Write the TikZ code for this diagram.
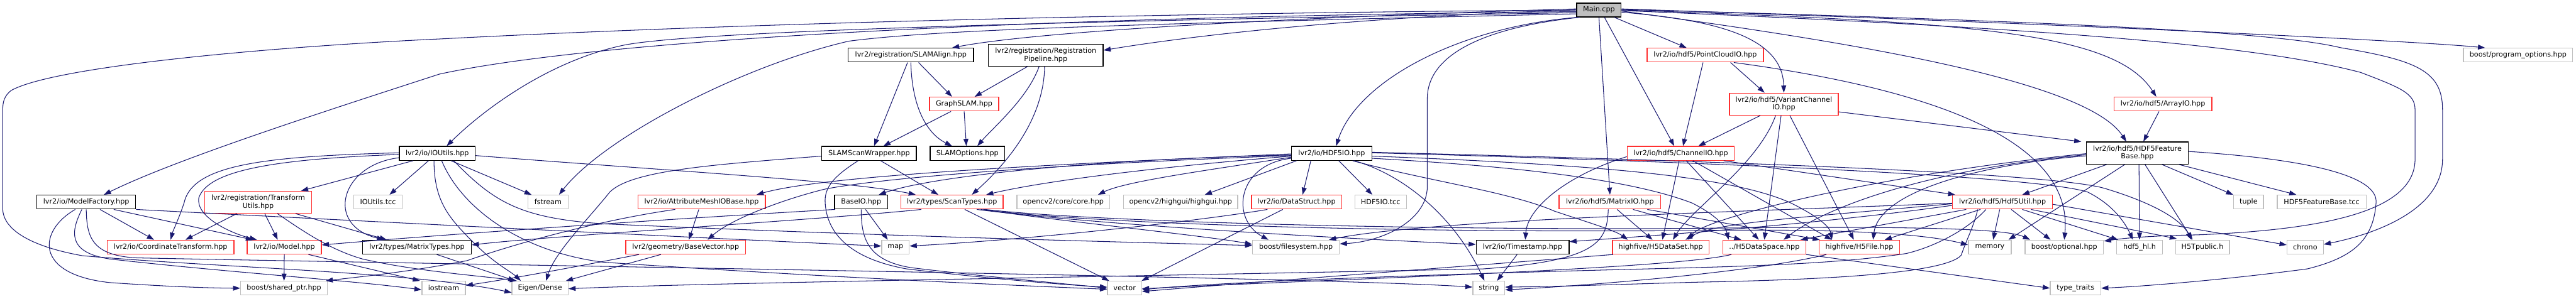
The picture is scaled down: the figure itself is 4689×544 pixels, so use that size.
\documentclass[tikz,border=0pt]{standalone}
\usepackage{fontspec}
\setmainfont{DejaVu Sans}
\usetikzlibrary{arrows.meta}
\definecolor{edgec}{HTML}{191970}
\definecolor{rbord}{HTML}{FF3030}
\definecolor{gbord}{HTML}{BFBFBF}
\tikzset{
  nb/.style={rectangle, inner sep=0pt, minimum height=25.3pt, font=\fontsize{12.8}{14}\selectfont, align=center, line width=1.5pt},
  kb/.style={nb, draw=black},
  rb/.style={nb, draw=rbord},
  gb/.style={nb, draw=gbord},
  e/.style={draw=edgec, line width=1.2pt, -{Triangle[length=13pt,width=9pt]}}
}
\begin{document}
\begin{tikzpicture}[x=1pt,y=-1pt]
\useasboundingbox (0,0) rectangle (4689,544);
% row 0
\node[kb, fill=gbord, minimum width=81pt] (main) at (2910.5,18.2) {Main.cpp};
% row 1
\node[gb, minimum width=199pt] (po) at (4583.5,100.5) {boost/program\_options.hpp};
\node[kb, minimum width=228pt] (slam) at (1658,100.5) {lvr2/registration/SLAMAlign.hpp};
\node[kb, minimum width=209pt, minimum height=39.6pt] (rp) at (1903.5,100.6) {lvr2/registration/Registration\\Pipeline.hpp};
\node[rb, minimum width=212pt] (pcio) at (3104,100.5) {lvr2/io/hdf5/PointCloudIO.hpp};
% row 2
\node[rb, minimum width=126pt] (gs) at (1755,189.7) {GraphSLAM.hpp};
\node[rb, minimum width=198pt, minimum height=40.2pt] (vcio) at (3247,189.8) {lvr2/io/hdf5/VariantChannel\\IO.hpp};
\node[rb, minimum width=178pt] (aio) at (3937,189.7) {lvr2/io/hdf5/ArrayIO.hpp};
% row 3
\node[kb, minimum width=138pt] (ioutils) at (796,279.5) {lvr2/io/IOUtils.hpp};
\node[kb, minimum width=172pt] (sw) at (1582,279.5) {SLAMScanWrapper.hpp};
\node[kb, minimum width=136pt] (so) at (1761,279.5) {SLAMOptions.hpp};
\node[kb, minimum width=146pt] (hdf5io) at (2424,279.5) {lvr2/io/HDF5IO.hpp};
\node[rb, minimum width=195pt] (chio) at (3059.5,279.5) {lvr2/io/hdf5/ChannelIO.hpp};
\node[kb, minimum width=185pt, minimum height=40.3pt] (fb) at (3890.5,279) {lvr2/io/hdf5/HDF5Feature\\Base.hpp};
% row 4
\node[kb, minimum width=180pt] (mf) at (157,368.3) {lvr2/io/ModelFactory.hpp};
\node[rb, minimum width=194pt, minimum height=40pt] (tu) at (470,368.6) {lvr2/registration/Transform\\Utils.hpp};
\node[gb, minimum width=88pt] (iotcc) at (688,368.3) {IOUtils.tcc};
\node[gb, minimum width=73pt] (fstream) at (997.5,368.3) {fstream};
\node[rb, minimum width=232pt] (amio) at (1277,368.3) {lvr2/io/AttributeMeshIOBase.hpp};
\node[kb, minimum width=97pt] (baseio) at (1567.5,368.3) {BaseIO.hpp};
\node[rb, minimum width=186pt] (st) at (1733,368.3) {lvr2/types/ScanTypes.hpp};
\node[gb, minimum width=169pt] (cv) at (1935.5,368.3) {opencv2/core/core.hpp};
\node[gb, minimum width=208pt] (hg) at (2149,368.3) {opencv2/highgui/highgui.hpp};
\node[rb, minimum width=164pt] (ds) at (2360,368.3) {lvr2/io/DataStruct.hpp};
\node[gb, minimum width=94pt] (htcc) at (2513,368.3) {HDF5IO.tcc};
\node[rb, minimum width=185pt] (mio) at (2930.5,368.3) {lvr2/io/hdf5/MatrixIO.hpp};
\node[rb, minimum width=182pt] (util) at (3645,368.3) {lvr2/io/hdf5/Hdf5Util.hpp};
\node[gb, minimum width=54pt] (tuple) at (4093,368.3) {tuple};
\node[gb, minimum width=162pt] (fbtcc) at (4226,368.3) {HDF5FeatureBase.tcc};
% row 5
\node[rb, minimum width=231pt] (ct) at (310.5,450.4) {lvr2/io/CoordinateTransform.hpp};
\node[rb, minimum width=135pt] (model) at (517.5,450.4) {lvr2/io/Model.hpp};
\node[kb, minimum width=198pt] (mt) at (759,450.4) {lvr2/types/MatrixTypes.hpp};
\node[rb, minimum width=218pt] (bv) at (1248,450.4) {lvr2/geometry/BaseVector.hpp};
\node[gb, minimum width=50pt] (map) at (1630,450.4) {map};
\node[gb, minimum width=158pt] (fs) at (2359,450.4) {boost/filesystem.hpp};
\node[kb, minimum width=169pt] (ts) at (2771.5,450.4) {lvr2/io/Timestamp.hpp};
\node[rb, minimum width=176pt] (h5ds) at (3023,450.4) {highfive/H5DataSet.hpp};
\node[rb, minimum width=151pt] (h5sp) at (3211.5,450.4) {../H5DataSpace.hpp};
\node[rb, minimum width=147pt] (h5f) at (3384.5,450.4) {highfive/H5File.hpp};
\node[gb, minimum width=78pt] (memory) at (3622,450.4) {memory};
\node[gb, minimum width=143pt] (opt) at (3757.5,450.4) {boost/optional.hpp};
\node[gb, minimum width=83pt] (hl) at (3894.5,450.4) {hdf5\_hl.h};
\node[gb, minimum width=98pt] (h5t) at (4009,450.4) {H5Tpublic.h};
\node[gb, minimum width=66pt] (chrono) at (4196,450.4) {chrono};
% row 6
\node[gb, minimum width=158pt] (sp) at (517,525.2) {boost/shared\_ptr.hpp};
\node[gb, minimum width=79pt] (ios) at (807.5,525.2) {iostream};
\node[gb, minimum width=102pt] (eigen) at (983,525.2) {Eigen/Dense};
\node[gb, minimum width=62pt] (vector) at (2047,525.2) {vector};
\node[gb, minimum width=58pt] (string) at (2710,525.2) {string};
\node[gb, minimum width=92pt] (tt) at (3778,525.2) {type\_traits};

% ---------- Main.cpp
\draw[e] (main.west) .. controls (2000,25) and (1300,45) .. (800,71) .. controls (500,85) and (100,120) .. (20,165) .. controls (8,175) and (5,185) .. (5,200) -- (5,380) .. controls (5,420) and (60,450) .. (150,466) .. controls (400,488) and (750,495) .. ([yshift=-8pt]eigen.west);
\draw[e] ([yshift=-3pt]main.west) .. controls (1900,30) and (1100,70) .. (800,135) .. controls (600,200) and (320,290) .. ([xshift=32pt]mf.north);
\draw[e] ([yshift=-5pt]main.west) .. controls (1800,40) and (1250,60) .. (1137,82) .. controls (1000,110) and (880,200) .. ([xshift=17pt]ioutils.north);
\draw[e] ([yshift=-7pt]main.west) .. controls (2000,45) and (1700,55) .. (1545,75) .. controls (1350,120) and (1100,250) .. ([xshift=20pt]fstream.north);
\draw[e] ([yshift=2pt]main.west) .. controls (2400,30) and (1900,55) .. ([xshift=75pt]slam.north);
\draw[e] ([yshift=0pt]main.west) .. controls (2500,30) and (2200,60) .. ([yshift=9pt]rp.east);
\draw[e] ([xshift=2pt]main.south west) .. controls (2650,50) and (2470,150) .. ([xshift=8pt]hdf5io.north);
\draw[e] ([xshift=6pt]main.south west) .. controls (2700,50) and (2598,100) .. (2598,180) -- (2598,340) .. controls (2598,400) and (2520,440) .. ([yshift=6pt]fs.east);
\draw[e] (main.south) -- (mio.north);
\draw[e] ([xshift=10pt]main.south) -- ([xshift=-12pt]chio.north);
\draw[e] ([xshift=28pt]main.south) -- ([xshift=-34pt]pcio.north);
\draw[e] ([yshift=-4pt]main.east) .. controls (3100,35) and (3245,60) .. (vcio.north);
\draw[e] ([yshift=-2pt]main.east) .. controls (3400,80) and (3800,150) .. ([xshift=-20pt]fb.north);
\draw[e] ([yshift=0pt]main.east) .. controls (3600,40) and (3850,60) .. ([xshift=-12pt]aio.north);
\draw[e] ([yshift=2pt]main.east) .. controls (3800,45) and (4400,75) .. ([xshift=-60pt]po.north);
\draw[e] ([yshift=1pt]main.east) .. controls (3800,40) and (4150,60) .. (4261,87) .. controls (4400,110) and (4446,130) .. (4446,200) -- (4446,290) .. controls (4446,380) and (4330,425) .. ([yshift=5pt]chrono.east);
\draw[e] ([yshift=-1pt]main.east) .. controls (3700,50) and (4100,80) .. (4297,132) .. controls (4370,160) and (4396,170) .. (4396,200) -- (4396,290) .. controls (4396,380) and (4250,418) .. (4000,428) .. controls (3900,430) and (3860,435) .. ([yshift=11pt]opt.east);

% ---------- ModelFactory
\draw[e] ([xshift=-20pt]mf.south) .. controls (70,420) and (60,500) .. (200,515) .. controls (300,522) and (380,525) .. (sp.west);
\draw[e] ([xshift=-8pt]mf.south) .. controls (130,420) and (120,460) .. (200,472) .. controls (400,495) and (650,512) .. ([yshift=-3pt]ios.west);
\draw[e] (mf.south) .. controls (158,430) and (165,466) .. (250,470) .. controls (1000,485) and (2400,505) .. ([yshift=2pt]string.west);
\draw[e] ([xshift=25pt]mf.south) -- ([xshift=-30pt]ct.north);
\draw[e] ([xshift=50pt]mf.south) -- ([xshift=-57pt]model.north);
\draw[e] (mf.south east) .. controls (500,395) and (1300,435) .. ([yshift=2pt]map.west);

% ---------- TransformUtils
\draw[e] ([xshift=-39pt]tu.south) -- ([xshift=27pt]ct.north);
\draw[e] ([xshift=12pt]tu.south) -- ([xshift=-12pt]model.north);
\draw[e] ([xshift=68pt]tu.south) -- ([xshift=-55pt]mt.north);
\draw[e] ([xshift=35pt]tu.south) .. controls (550,420) and (600,455) .. (660,472) .. controls (760,495) and (880,503) .. ([xshift=-42pt]eigen.north);

% ---------- IOUtils
\draw[e] ([yshift=1pt]ioutils.west) .. controls (480,285) and (350,300) .. (335,370) .. controls (325,400) and (315,420) .. (ct.north);
\draw[e] ([yshift=-2pt]ioutils.west) .. controls (500,290) and (380,310) .. (362,360) .. controls (355,395) and (420,425) .. ([xshift=-50pt]model.north);
\draw[e] ([xshift=-44pt]ioutils.south) -- ([xshift=78pt]tu.north);
\draw[e] ([xshift=-16pt]ioutils.south) -- ([xshift=21pt]iotcc.north);
\draw[e] ([yshift=-8pt]ioutils.west) .. controls (620,300) and (590,410) .. ([xshift=-60pt]mt.north);
\draw[e] ([xshift=-6pt]ioutils.south) .. controls (790,370) and (820,400) .. (865,445) .. controls (900,480) and (930,495) .. ([xshift=-35pt]eigen.north);
\draw[e] ([xshift=25pt]ioutils.south) -- ([xshift=-30pt]fstream.north);
\draw[e] ([yshift=-4pt]ioutils.east) .. controls (1200,310) and (1550,330) .. ([xshift=-66pt]st.north);
\draw[e] ([xshift=8pt]ioutils.south) .. controls (840,380) and (950,460) .. (1100,478) .. controls (1500,505) and (1800,518) .. ([yshift=-2pt]vector.west);
\draw[e] ([xshift=30pt]ioutils.south) .. controls (900,370) and (950,398) .. (1100,408) .. controls (1600,430) and (2000,440) .. ([yshift=3pt]fs.west);

% ---------- SLAMScanWrapper
\draw[e] ([xshift=21pt]sw.south) -- ([xshift=-25pt]st.north);
\draw[e] ([yshift=-5pt]sw.west) .. controls (1300,300) and (1150,310) .. (1110,350) .. controls (1070,400) and (1010,460) .. ([xshift=11pt]eigen.north);
\draw[e] ([xshift=-20pt]sw.south) .. controls (1520,320) and (1500,340) .. (1502,370) .. controls (1505,420) and (1540,470) .. (1650,490) .. controls (1800,508) and (1950,520) .. ([yshift=2pt]vector.west);

% ---------- SLAMAlign / Pipeline / GraphSLAM
\draw[e] ([xshift=-6pt]slam.south) -- ([xshift=9pt]sw.north);
\draw[e] (slam.south) .. controls (1660,200) and (1690,245) .. ([xshift=-28pt]so.north);
\draw[e] ([xshift=14pt]slam.south) -- ([xshift=-22pt]gs.north);
\draw[e] ([xshift=-33pt]rp.south) -- ([xshift=19pt]gs.north);
\draw[e] ([xshift=-12pt]rp.south) .. controls (1870,180) and (1810,230) .. ([xshift=18pt]so.north);
\draw[e] ([xshift=-2pt]rp.south) .. controls (1900,220) and (1830,300) .. ([xshift=36pt]st.north);
\draw[e] ([xshift=-24pt]gs.south) -- ([xshift=26pt]sw.north);
\draw[e] (gs.south) -- ([xshift=-2pt]so.north);

% ---------- BaseIO
\draw[e] ([xshift=2pt]baseio.south west) .. controls (1200,400) and (800,428) .. ([yshift=4pt]model.east);
\draw[e] ([xshift=8pt]baseio.south) -- ([xshift=-14pt]map.north);
\draw[e] (baseio.south) .. controls (1568,430) and (1575,475) .. (1660,488) .. controls (1800,505) and (1950,518) .. (vector.west);

% ---------- ScanTypes
\draw[e] ([xshift=-56pt]st.south) .. controls (1500,400) and (1000,430) .. ([yshift=4pt]mt.east);
\draw[e] ([xshift=23pt]st.south) -- ([xshift=-28pt]vector.north);
\draw[e] ([xshift=57pt]st.south) .. controls (1900,400) and (2200,430) .. ([yshift=5pt]fs.west);
\draw[e] ([xshift=52pt]st.south) .. controls (2000,410) and (2600,425) .. (3100,420) .. controls (3400,416) and (3520,430) .. ([yshift=4pt]memory.west);
\draw[e] ([xshift=60pt]st.south) .. controls (2000,405) and (2600,420) .. (3100,416) .. controls (3450,412) and (3650,415) .. ([xshift=10pt]opt.north west);
\draw[e] ([xshift=45pt]st.south) .. controls (2000,410) and (2450,435) .. ([yshift=5pt]ts.west);

% ---------- AttributeMeshIOBase / BaseVector / MatrixTypes / Model
\draw[e] ([xshift=-5pt]amio.south) -- ([xshift=6pt]bv.north);
\draw[e] ([xshift=-48pt]amio.south) .. controls (1100,400) and (950,440) .. (850,475) .. controls (750,495) and (650,505) .. ([xshift=-4pt]sp.north east);
\draw[e] ([xshift=-85pt]bv.south) .. controls (1080,480) and (950,505) .. ([yshift=5pt]ios.east);
\draw[e] ([xshift=-45pt]bv.south) -- ([xshift=47pt]eigen.north);
\draw[e] ([xshift=36pt]mt.south) -- ([xshift=-45pt]eigen.north);
\draw[e] (model.south) -- (sp.north);
\draw[e] ([xshift=44pt]model.south) -- ([xshift=-43pt]ios.north);

% ---------- DataStruct
\draw[e] ([xshift=-53pt]ds.south) .. controls (2200,400) and (1900,435) .. ([yshift=2pt]map.east);
\draw[e] ([xshift=-25pt]ds.south) -- ([xshift=31pt]vector.north);

% ---------- HDF5IO
\draw[e] ([yshift=-3pt]hdf5io.west) .. controls (2000,290) and (1700,320) .. ([xshift=32pt]baseio.north);
\draw[e] ([yshift=-5pt]hdf5io.west) .. controls (2100,305) and (1900,330) .. ([xshift=62pt]st.north);
\draw[e] ([yshift=-7pt]hdf5io.west) .. controls (2200,310) and (2050,330) .. ([xshift=63pt]cv.north);
\draw[e] ([xshift=-64pt]hdf5io.south) -- ([xshift=44pt]hg.north);
\draw[e] ([xshift=-38pt]hdf5io.south) -- ([xshift=11pt]ds.north);
\draw[e] ([xshift=13pt]hdf5io.south) -- ([xshift=-15pt]htcc.north);
\draw[e] ([xshift=41pt]hdf5io.south) .. controls (2560,320) and (2650,400) .. ([xshift=-8pt]string.north);
\draw[e] ([xshift=38pt]hdf5io.south) .. controls (2600,330) and (2750,350) .. (2830,385) .. controls (2890,405) and (2940,420) .. ([xshift=-60pt]h5ds.north);
\draw[e] ([yshift=-9pt]hdf5io.east) .. controls (2700,300) and (2950,320) .. (3080,370) .. controls (3120,390) and (3140,410) .. ([xshift=-65pt]h5sp.north);
\draw[e] ([yshift=-5pt]hdf5io.east) .. controls (2900,300) and (3150,320) .. (3260,370) .. controls (3300,390) and (3330,410) .. ([xshift=-50pt]h5f.north);
\draw[e] ([yshift=1pt]hdf5io.east) .. controls (3000,292) and (3700,318) .. (3800,350) .. controls (3850,375) and (3870,410) .. ([xshift=-12pt]hl.north);
\draw[e] ([yshift=2pt]hdf5io.east) .. controls (3000,290) and (3720,312) .. (3830,343) .. controls (3920,370) and (3970,400) .. ([xshift=-20pt]h5t.north);
\draw[e] ([yshift=-9pt]hdf5io.west) .. controls (2250,300) and (2240,400) .. ([xshift=-50pt]fs.north);
\draw[e] ([yshift=-1pt]hdf5io.west) .. controls (1900,300) and (1500,320) .. ([xshift=100pt]amio.north);
\draw[e] ([yshift=-4pt]hdf5io.west) .. controls (1900,300) and (1600,325) .. (1500,345) .. controls (1420,365) and (1330,400) .. ([xshift=40pt]bv.north);

% ---------- Timestamp
\draw[e] ([xshift=-10pt]ts.south) -- ([xshift=15pt]string.north);

% ---------- ChannelIO
\draw[e] ([yshift=-6pt]chio.west) .. controls (2850,320) and (2780,380) .. ([xshift=5pt]ts.north);
\draw[e] ([xshift=-3pt]chio.south) -- ([xshift=3pt]h5ds.north);
\draw[e] ([xshift=10pt]chio.south) -- ([xshift=-10pt]h5sp.north);
\draw[e] ([xshift=22pt]chio.south) -- ([xshift=-50pt]h5f.north);
\draw[e] ([xshift=78pt]chio.south) -- ([xshift=-86pt]util.north);

% ---------- VariantChannelIO
\draw[e] ([xshift=-43pt]vcio.south) -- ([xshift=32pt]chio.north);
\draw[e] ([xshift=-15pt]vcio.south) .. controls (3200,300) and (3080,380) .. ([xshift=22pt]h5ds.north);
\draw[e] ([xshift=-5pt]vcio.south) -- (h5sp.north);
\draw[e] ([xshift=11pt]vcio.south) -- ([xshift=-10pt]h5f.north);
\draw[e] ([yshift=-14pt]vcio.east) -- ([xshift=-102pt]fb.north);

% ---------- PointCloudIO
\draw[e] ([xshift=-4pt]pcio.south) -- ([xshift=4pt]chio.north);
\draw[e] ([xshift=46pt]pcio.south) -- ([xshift=-35pt]vcio.north);
\draw[e] ([xshift=52pt]pcio.south) .. controls (3500,160) and (3775,250) .. (opt.north);

% ---------- ArrayIO
\draw[e] ([xshift=-7pt]aio.south) -- ([xshift=11pt]fb.north);

% ---------- HDF5FeatureBase
\draw[e] ([xshift=-56pt]fb.south) -- ([xshift=36pt]util.north);
\draw[e] ([xshift=-23pt]fb.south) -- ([xshift=34pt]memory.north);
\draw[e] ([xshift=3pt]fb.south) -- (hl.north);
\draw[e] ([xshift=14pt]fb.south) -- ([xshift=-18pt]h5t.north);
\draw[e] ([xshift=45pt]fb.south) -- ([xshift=-28pt]tuple.north);
\draw[e] ([xshift=76pt]fb.south) -- ([xshift=-46pt]fbtcc.north);
\draw[e] ([yshift=3pt]fb.east) .. controls (4200,290) and (4330,320) .. (4325,370) .. controls (4320,440) and (4280,470) .. (4200,490) .. controls (4050,510) and (3900,522) .. (tt.east);
\draw[e] ([yshift=-5pt]fb.west) .. controls (3600,300) and (3420,350) .. ([xshift=25pt]h5f.north);
\draw[e] ([yshift=-3pt]fb.west) .. controls (3500,310) and (3320,380) .. ([xshift=35pt]h5sp.north);
\draw[e] ([yshift=-1pt]fb.west) .. controls (3400,320) and (3100,400) .. ([xshift=50pt]h5ds.north);

% ---------- Hdf5Util
\draw[e] ([xshift=-66pt]util.south) -- ([xshift=66pt]h5sp.north);
\draw[e] ([xshift=-40pt]util.south) -- ([xshift=46pt]h5f.north);
\draw[e] ([yshift=-3pt]util.west) .. controls (3300,395) and (3120,405) .. ([xshift=45pt]h5ds.north);
\draw[e] ([xshift=-5pt]util.south) -- ([xshift=6pt]memory.north);
\draw[e] ([xshift=16pt]util.south) -- ([xshift=-25pt]opt.north);
\draw[e] ([xshift=36pt]util.south) -- ([xshift=-39pt]hl.north);
\draw[e] ([xshift=52pt]util.south) -- ([xshift=3pt,yshift=2pt]h5t.north west);
\draw[e] ([yshift=-4pt]util.east) -- ([yshift=4pt]chrono.west);
\draw[e] ([xshift=-45pt]util.south) .. controls (3592,415) and (3578,440) .. (3570,465) .. controls (3540,500) and (3300,510) .. (3100,514) .. controls (2950,518) and (2850,522) .. ([yshift=2pt]string.east);
\draw[e] ([xshift=-30pt]util.south) .. controls (3580,420) and (3520,450) .. (3470,462) .. controls (3350,480) and (3200,485) .. (3000,490) .. controls (2600,500) and (2200,515) .. ([yshift=-3pt]vector.east);
\draw[e] ([yshift=-2pt]util.west) .. controls (3200,385) and (2600,400) .. ([xshift=60pt]fs.north);
\draw[e] ([yshift=-6pt]util.west) .. controls (3300,410) and (3000,430) .. ([yshift=10pt]ts.east);

% ---------- highfive
\draw[e] ([xshift=2pt]h5ds.south west) .. controls (2800,475) and (2400,505) .. ([yshift=-6pt]vector.east);
\draw[e] (h5sp.south east) -- (tt.west);
\draw[e] ([xshift=-60pt]h5sp.south) .. controls (3050,490) and (2400,510) .. ([yshift=-1pt]vector.east);
\draw[e] ([xshift=-60pt]h5f.south) .. controls (3200,495) and (2900,520) .. ([yshift=-3pt]string.east);

% ---------- MatrixIO
\draw[e] ([xshift=13pt]mio.south) -- ([xshift=-15pt]h5ds.north);
\draw[e] ([xshift=42pt]mio.south) -- ([xshift=-42pt]h5sp.north);
\draw[e] ([xshift=68pt]mio.south) -- ([xshift=-72pt]h5f.north);
\draw[e] ([xshift=-3pt]mio.south) .. controls (2925,440) and (2910,475) .. (2700,490) .. controls (2000,505) and (1300,515) .. ([yshift=-1pt]eigen.east);
\end{tikzpicture}
\end{document}
